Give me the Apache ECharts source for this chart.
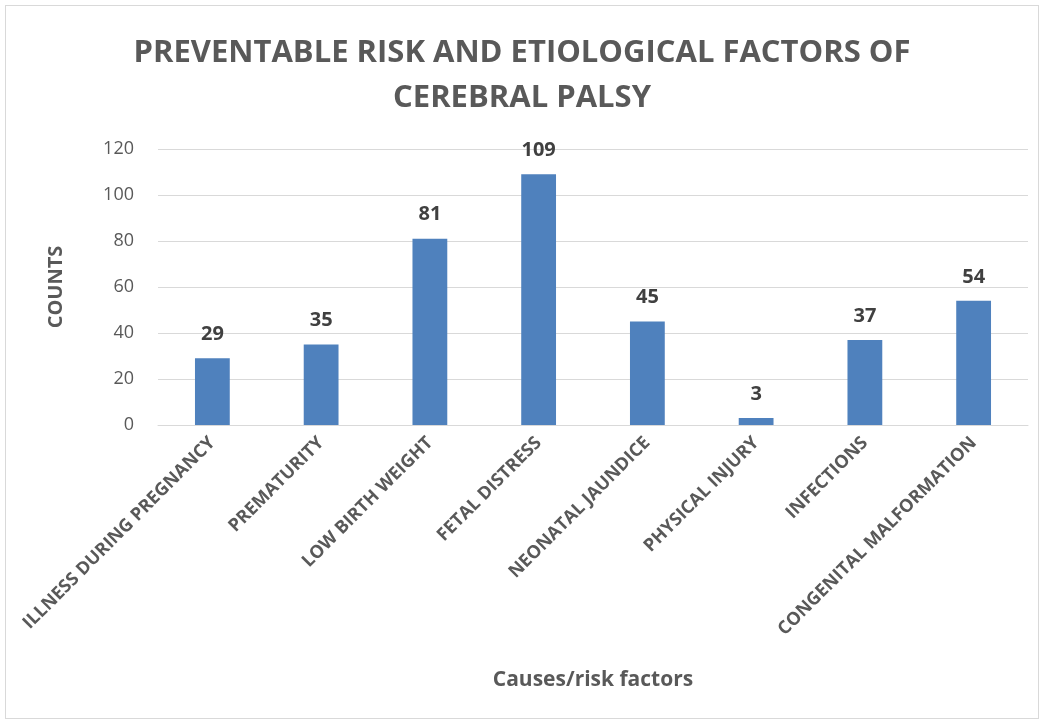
<!DOCTYPE html>
<html>
<head>
<meta charset="utf-8">
<script src="https://cdn.jsdelivr.net/npm/echarts@6/dist/echarts.min.js"></script>
<style>
  html, body { margin: 0; padding: 0; background: #fff; }
  #chart { width: 1044px; height: 724px; }
  #frame { position: absolute; left: 5px; top: 5px; width: 1032px; height: 712px; border: 1px solid #d9d9d9; pointer-events: none; }
</style>
</head>
<body>
<div id="chart"></div>
<div id="frame"></div>
<script>
// categories and counts
const categories = [
  "ILLNESS DURING PREGNANCY",
  "PREMATURITY",
  "LOW BIRTH WEIGHT",
  "FETAL DISTRESS",
  "NEONATAL JAUNDICE",
  "PHYSICAL INJURY",
  "INFECTIONS",
  "CONGENITAL MALFORMATION"
];
const counts = [29, 35, 81, 109, 45, 3, 37, 54];

const chart = echarts.init(document.getElementById("chart"), null, { renderer: "canvas" });

chart.setOption({
  animation: false,
  textStyle: { fontFamily: "Open Sans" },
  title: {
    text: "PREVENTABLE RISK AND ETIOLOGICAL FACTORS OF\nCEREBRAL PALSY",
    left: "center",
    top: 26,
    textStyle: { fontSize: 31, fontWeight: "bold", color: "#595959", lineHeight: 45 }
  },
  grid: { left: 158, right: 16, top: 149, bottom: 299 },
  xAxis: {
    type: "category",
    data: categories,
    name: "Causes/risk factors",
    nameLocation: "middle",
    nameGap: 245,
    nameTextStyle: { fontSize: 21, fontWeight: "bold", color: "#595959" },
    axisTick: { show: false },
    axisLine: { lineStyle: { color: "#d9d9d9", width: 1 } },
    axisLabel: {
      interval: 0,
      rotate: 45,
      margin: 15,
      fontSize: 18,
      fontWeight: "bold",
      color: "#595959"
    }
  },
  yAxis: {
    type: "value",
    min: 0,
    max: 120,
    interval: 20,
    name: "COUNTS",
    nameLocation: "middle",
    nameGap: 92,
    nameTextStyle: { fontSize: 20, fontWeight: "bold", color: "#595959" },
    axisLine: { show: false },
    axisTick: { show: false },
    axisLabel: { fontSize: 18, color: "#595959", margin: 24 },
    splitLine: { lineStyle: { color: "#d9d9d9", width: 1 } }
  },
  series: [
    {
      type: "bar",
      data: counts,
      barWidth: "32%",
      itemStyle: { color: "#4f81bd" },
      label: {
        show: true,
        position: "top",
        distance: 14,
        fontSize: 20,
        fontWeight: "bold",
        color: "#404040"
      }
    }
  ]
});
</script>
</body>
</html>
